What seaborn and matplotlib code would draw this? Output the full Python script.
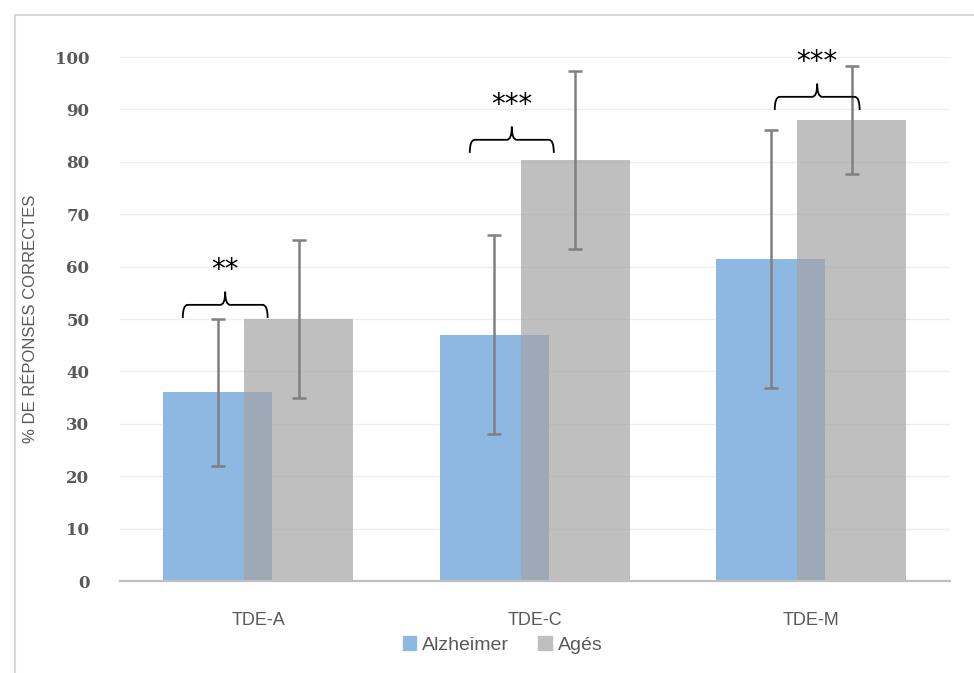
import numpy as np
import seaborn as sns
import matplotlib.pyplot as plt
from matplotlib.path import Path
from matplotlib.patches import PathPatch, Patch, Rectangle

categories = ["TDE-A", "TDE-C", "TDE-M"]
alz_mean = [36, 47, 61.5]
alz_err = [14, 19, 24.6]
ages_mean = [50, 80.4, 87.9]
ages_err = [15, 17, 10.3]
series_names = ["Alzheimer", "Agés"]

# significance braces (offsets from category centre, height of the brace)
brace_left = [-0.273, -0.235, -0.132]
brace_right = [0.034, 0.069, 0.175]
brace_level = [52.7, 84.2, 92.4]
star_labels = ["**", "***", "***"]

blue = "#8db8e2"
gray = "#a4a4a4"
text_gray = "#595959"

sns.set_style("white")
plt.rcParams["font.family"] = ["Liberation Sans", "DejaVu Sans"]

fig = plt.figure(figsize=(9.74, 6.73), dpi=100)
ax = fig.add_axes([120 / 974, 1 - 581 / 673, (949.5 - 120) / 974, (581 - 57) / 673])

x = np.arange(len(categories))
off = 0.1465
width = 0.394

sns.barplot(x=x - off, y=alz_mean, native_scale=True, width=width, color=blue,
            saturation=1, errorbar=None, linewidth=0, ax=ax, zorder=2)
sns.barplot(x=x + off, y=ages_mean, native_scale=True, width=width, color=gray,
            saturation=1, errorbar=None, linewidth=0, alpha=0.7, ax=ax, zorder=2)

ax.errorbar(x - off, alz_mean, yerr=alz_err, fmt="none", ecolor="#808080",
            elinewidth=1.8, capsize=5, capthick=1.8, zorder=3)
ax.errorbar(x + off, ages_mean, yerr=ages_err, fmt="none", ecolor="#808080",
            elinewidth=1.8, capsize=5, capthick=1.8, zorder=3)

# braces + stars
h = 2.5
for i in range(len(categories)):
    x0 = x[i] + brace_left[i]
    x1 = x[i] + brace_right[i]
    xm = (x0 + x1) / 2
    y = brace_level[i]
    r = 0.018
    verts = [(x0, y - h), (x0, y), (x0 + r, y),
             (xm - r, y), (xm, y), (xm, y + h),
             (xm, y), (xm + r, y),
             (x1 - r, y), (x1, y), (x1, y - h)]
    codes = [Path.MOVETO, Path.CURVE3, Path.CURVE3,
             Path.LINETO, Path.CURVE3, Path.CURVE3,
             Path.CURVE3, Path.CURVE3,
             Path.LINETO, Path.CURVE3, Path.CURVE3]
    ax.add_patch(PathPatch(Path(verts, codes), fill=False, lw=1.3,
                           edgecolor="black", zorder=4, clip_on=False))
    ax.text(xm, y + h + 4.1, star_labels[i], ha="center", va="center",
            fontsize=20, color="black", family="DejaVu Sans", clip_on=False)

ax.set_xlim(-0.5, 2.5)
ax.set_ylim(0, 100)
ax.set_xticks(x)
ax.set_xticklabels(categories, fontsize=13, color=text_gray)
ax.set_yticks(range(0, 101, 10))
ax.set_yticklabels([str(v) for v in range(0, 101, 10)], fontsize=12,
                   color=text_gray, family="DejaVu Serif", fontweight="bold")
ax.tick_params(axis="both", length=0)
ax.tick_params(axis="y", pad=22)
ax.tick_params(axis="x", pad=22)
ax.set_ylabel("% DE RÉPONSES CORRECTES", fontsize=12, color=text_gray, labelpad=12)
ax.set_xlabel("")

ax.set_axisbelow(True)
ax.yaxis.grid(True, color="#eeeeee", lw=1)
ax.xaxis.grid(False)
for s in ["top", "right", "left"]:
    ax.spines[s].set_visible(False)
ax.spines["bottom"].set_color("#bfbfbf")
ax.spines["bottom"].set_linewidth(1.6)

handles = [Patch(color=blue), Patch(color="#bfbfbf")]
fig.legend(handles, series_names, loc="center", bbox_to_anchor=(0.516, 1 - 645 / 673),
           ncol=2, frameon=False, handlelength=0.7, handleheight=0.7,
           handletextpad=0.3, columnspacing=1.5, fontsize=14, labelcolor=text_gray)

# outer chart frame
fig.patches.append(Rectangle((14.5 / 974, -0.1), 1.2, 1.1 - 15.5 / 673,
                             transform=fig.transFigure, fill=False,
                             edgecolor="#d9d9d9", lw=1.5))

fig.savefig("out.png", dpi=100)
